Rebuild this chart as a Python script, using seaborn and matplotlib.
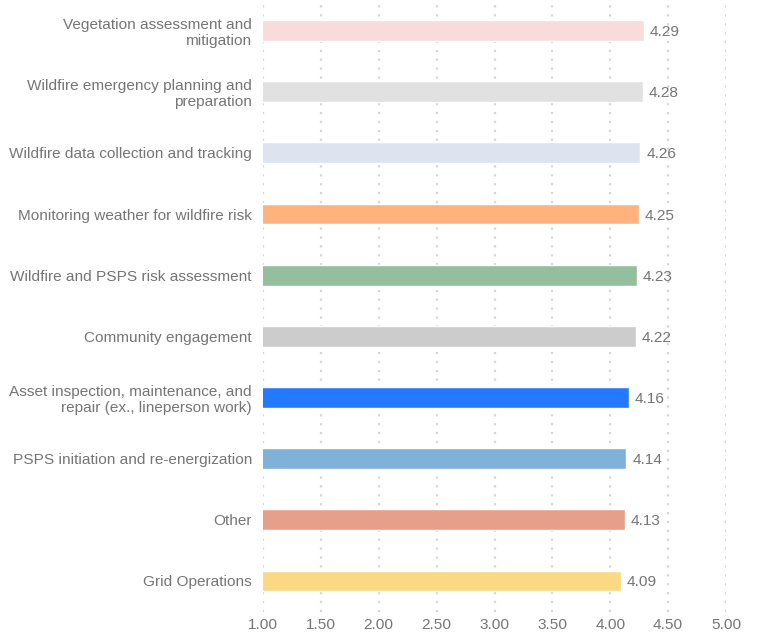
import matplotlib
matplotlib.use("Agg")
import matplotlib.pyplot as plt
import seaborn as sns
import pandas as pd

categories = [
    "Vegetation assessment and\nmitigation",
    "Wildfire emergency planning and\npreparation",
    "Wildfire data collection and tracking",
    "Monitoring weather for wildfire risk",
    "Wildfire and PSPS risk assessment",
    "Community engagement",
    "Asset inspection, maintenance, and\nrepair (ex., lineperson work)",
    "PSPS initiation and re-energization",
    "Other",
    "Grid Operations",
]
values = [4.29, 4.28, 4.26, 4.25, 4.23, 4.22, 4.16, 4.14, 4.13, 4.09]
colors = ["#F8DCDC", "#E1E1E1", "#DDE3EF", "#FFB27D", "#93BF9E",
          "#CCCCCC", "#2379FF", "#7FB2D8", "#E6A08A", "#FAD982"]
xticks = [1.0, 1.5, 2.0, 2.5, 3.0, 3.5, 4.0, 4.5, 5.0]

sns.set_theme(style="white")
plt.rcParams["font.family"] = ["Liberation Sans", "DejaVu Sans"]
text_color = "#757575"
fs = 11.1

df = pd.DataFrame({"category": categories, "value": values})

fig = plt.figure(figsize=(7.62, 6.36), dpi=100)
ax = fig.add_axes([263 / 762, 1 - 611.5 / 636, (726 - 263) / 762, 611.5 / 636])

sns.barplot(data=df, y="category", x="value", hue="category",
            palette=colors, saturation=1, orient="h", width=0.34, legend=False,
            dodge=False, ax=ax, zorder=3)

ax.set_xlim(1.0, 5.0)
ax.set_ylim(len(categories) - 0.5, -0.5)
ax.set_xticks(xticks)
ax.set_xticklabels([f"{t:.2f}" for t in xticks])
ax.set_xlabel("")
ax.set_ylabel("")
for s in ax.spines.values():
    s.set_visible(False)
ax.grid(False)
for t in xticks:
    ax.axvline(t, color="#D6D6D6", linestyle=(0, (1, 3)), linewidth=1.6, zorder=1)

ax.tick_params(axis="x", length=0, labelsize=fs, labelcolor=text_color, pad=5)
ax.tick_params(axis="y", length=0, labelsize=fs, labelcolor=text_color, pad=8)
for lbl in ax.get_yticklabels():
    lbl.set_horizontalalignment("right")
    lbl.set_multialignment("right")

for i, v in enumerate(values):
    ax.text(v + 0.05, i, f"{v:.2f}", va="center_baseline", ha="left",
            fontsize=fs, color=text_color)

fig.savefig("out.png", dpi=100)
